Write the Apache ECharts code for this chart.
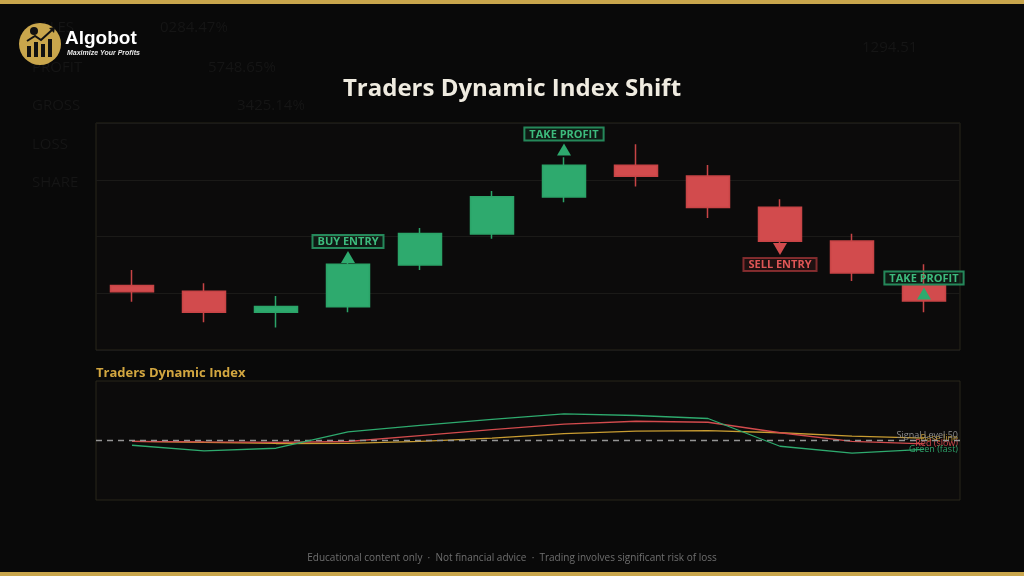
<!DOCTYPE html>
<html>
<head>
<meta charset="utf-8">
<script src="https://cdn.jsdelivr.net/npm/echarts@6/dist/echarts.min.js"></script>
<style>
html,body{margin:0;padding:0;background:#090909;}
#c{width:1024px;height:576px;}
</style>
</head>
<body>
<div id="c"></div>
<script>
// ---- data ----
const categories = ['1','2','3','4','5','6','7','8','9','10','11','12'];
const openVals  = [102.27, 102.07, 101.33, 101.52, 103.00, 104.09, 105.39, 106.51, 106.13, 105.03, 103.84, 102.29];
const closeVals = [102.05, 101.33, 101.53, 103.02, 104.11, 105.40, 106.51, 106.12, 105.02, 103.83, 102.71, 101.73];
const lowVals   = [101.70, 100.98, 100.79, 101.33, 102.82, 103.92, 105.21, 105.76, 104.65, 103.70, 102.43, 101.33];
const highVals  = [102.82, 102.35, 101.90, 103.10, 104.30, 105.60, 106.79, 107.25, 106.52, 105.31, 104.10, 103.02];

const signalIndex  = [3, 6, 9, 11];
const signalPrice  = [103.28, 107.07, 103.56, 101.99];
const signalLabels = ['BUY ENTRY', 'TAKE PROFIT', 'SELL ENTRY', 'TAKE PROFIT'];
const signalSide   = ['buy', 'buy', 'sell', 'buy'];

const greenFast = [47.6, 44.8, 46.1, 54.4, 57.6, 60.7, 63.4, 62.6, 61.1, 47.1, 43.6, 45.5];
const redSlow   = [49.6, 49.3, 49.1, 49.5, 52.5, 55.5, 58.3, 59.7, 59.2, 53.9, 49.6, 48.3];
const baseLine  = [49.6, 49.1, 48.5, 48.6, 49.6, 51.2, 53.5, 54.7, 55.0, 53.9, 52.2, 51.2];
const signalLevel = 50;

const titleText = 'Traders Dynamic Index Shift';
const subTitle = 'Traders Dynamic Index';
const footerText = 'Educational content only  ·  Not financial advice  ·  Trading involves significant risk of loss';

// ---- styles ----
const GREEN = '#2eaa6e';
const RED = '#d24b4d';
const YELLOW = '#c99d32';
const FONT = '"Open Sans", "Noto Sans", sans-serif';

const candleData = categories.map((c, i) => [openVals[i], closeVals[i], lowVals[i], highVals[i]]);

const markData = signalIndex.map((idx, k) => {
  const buy = signalSide[k] === 'buy';
  const col = buy ? GREEN : RED;
  return {
    coord: [idx, signalPrice[k]],
    symbol: 'triangle',
    symbolSize: [14, 12],
    symbolRotate: buy ? 0 : 180,
    itemStyle: { color: col },
    label: {
      show: true,
      formatter: signalLabels[k],
      position: buy ? 'top' : 'bottom',
      distance: 3,
      color: buy ? '#3dbb7d' : '#df5656',
      fontFamily: FONT,
      fontWeight: 'bold',
      fontSize: 11,
      lineHeight: 12,
      padding: [1, 5, 0, 5],
      borderWidth: 1,
      borderColor: buy ? '#25875a' : '#7d2a2c',
      backgroundColor: buy ? 'rgba(46,170,110,0.10)' : 'rgba(210,75,77,0.10)'
    }
  };
});

const wm = (text, x, y) => ({
  type: 'text', left: x, top: y, silent: true, z: -10,
  style: { text: text, fill: '#151515', font: '15px "Open Sans", sans-serif' }
});

const chart = echarts.init(document.getElementById('c'));
chart.setOption({
  backgroundColor: '#090909',
  animation: false,
  title: [
    { text: titleText, left: 'center', top: 72,
      textStyle: { color: '#efebe0', fontFamily: FONT, fontWeight: 'bold', fontSize: 24 } },
    { text: subTitle, left: 96, top: 367, padding: 0,
      textStyle: { color: '#d2a640', fontFamily: FONT, fontWeight: 'bold', fontSize: 13 } },
    { text: footerText, left: 'center', top: 553, padding: 0,
      textStyle: { color: '#6f6f6f', fontFamily: FONT, fontWeight: 'normal', fontSize: 10 } }
  ],
  graphic: [
    { type: 'rect', left: 0, top: 0, shape: { width: 1024, height: 4 }, style: { fill: '#c9a64c' }, silent: true },
    { type: 'rect', left: 0, top: 572, shape: { width: 1024, height: 4 }, style: { fill: '#c9a64c' }, silent: true },
    wm('SALES', 32, 20), wm('0284.47%', 160, 20),
    wm('PROFIT', 32, 60), wm('5748.65%', 208, 60),
    wm('GROSS', 32, 98), wm('3425.14%', 237, 98),
    wm('LOSS', 32, 137), wm('SHARE', 32, 175),
    wm('1294.51', 862, 40),
    { type: 'circle', shape: { cx: 40, cy: 44, r: 21 }, style: { fill: '#c9a64c' }, silent: true },
    { type: 'rect', shape: { x: 27, y: 46, width: 4, height: 11 }, style: { fill: '#111' }, silent: true },
    { type: 'rect', shape: { x: 34, y: 42, width: 4, height: 15 }, style: { fill: '#111' }, silent: true },
    { type: 'rect', shape: { x: 41, y: 44, width: 4, height: 13 }, style: { fill: '#111' }, silent: true },
    { type: 'rect', shape: { x: 48, y: 39, width: 4, height: 18 }, style: { fill: '#111' }, silent: true },
    { type: 'polyline', shape: { points: [[27, 41], [35, 36], [41, 40], [52, 30]] }, style: { stroke: '#111', lineWidth: 2, fill: null }, silent: true },
    { type: 'polygon', shape: { points: [[49, 28], [55, 27], [54, 33]] }, style: { fill: '#111' }, silent: true },
    { type: 'circle', shape: { cx: 34, cy: 31, r: 4 }, style: { fill: '#111' }, silent: true },
    { type: 'text', left: 65, top: 29, style: { text: 'Algobot', fill: '#ffffff', font: 'bold 19px "Liberation Sans", Arial, sans-serif' }, silent: true },
    { type: 'text', left: 67, top: 50, style: { text: 'Maximize Your Profits', fill: '#e8e8e8', font: 'italic bold 7px "Liberation Sans", Arial, sans-serif' }, silent: true }
  ],
  grid: [
    { left: 96, right: 64, top: 123, height: 227, show: true, backgroundColor: '#0c0b0b', borderColor: '#29261b', borderWidth: 1 },
    { left: 96, right: 64, top: 381, height: 119, show: true, backgroundColor: '#0c0b0b', borderColor: '#29261b', borderWidth: 1 }
  ],
  xAxis: [
    { type: 'category', gridIndex: 0, data: categories, boundaryGap: true, show: false },
    { type: 'category', gridIndex: 1, data: categories, boundaryGap: true, show: false }
  ],
  yAxis: [
    { type: 'value', gridIndex: 0, min: 100, max: 108, interval: 2,
      axisLine: { show: false }, axisTick: { show: false }, axisLabel: { show: false },
      splitLine: { show: true, lineStyle: { color: '#1b1a18', width: 1 } } },
    { type: 'value', gridIndex: 1, min: 20, max: 80,
      axisLine: { show: false }, axisTick: { show: false }, axisLabel: { show: false },
      splitLine: { show: false } }
  ],
  series: [
    {
      type: 'candlestick', xAxisIndex: 0, yAxisIndex: 0,
      data: candleData,
      barWidth: 44,
      itemStyle: { color: GREEN, color0: RED, borderColor: '#2ba468', borderColor0: '#c84446', borderWidth: 1.5 },
      markPoint: { data: markData, z: 10 }
    },
    {
      type: 'line', xAxisIndex: 1, yAxisIndex: 1, data: baseLine,
      symbol: 'none', lineStyle: { color: YELLOW, width: 1.3 }, z: 3,
      endLabel: { show: true, formatter: 'Base line', color: '#c49a36', fontSize: 9, fontFamily: FONT, align: 'right', distance: 34 },
      markLine: {
        symbol: 'none', silent: true,
        data: [{ yAxis: signalLevel }],
        lineStyle: { color: '#959595', type: [6, 5], width: 1.3 },
        label: { show: true, position: 'insideEndTop', distance: [2, 1], formatter: 'Signal Level 50', color: '#8d8d8d', fontSize: 9, fontFamily: FONT }
      }
    },
    {
      type: 'line', xAxisIndex: 1, yAxisIndex: 1, data: redSlow,
      symbol: 'none', lineStyle: { color: RED, width: 1.3 }, z: 4,
      endLabel: { show: true, formatter: 'Red (slow)', color: '#d44a4c', fontSize: 9, fontFamily: FONT, align: 'right', distance: 34 }
    },
    {
      type: 'line', xAxisIndex: 1, yAxisIndex: 1, data: greenFast,
      symbol: 'none', lineStyle: { color: GREEN, width: 1.3 }, z: 5,
      endLabel: { show: true, formatter: 'Green (fast)', color: '#2ea36a', fontSize: 9, fontFamily: FONT, align: 'right', distance: 34 }
    }
  ]
});
</script>
</body>
</html>
